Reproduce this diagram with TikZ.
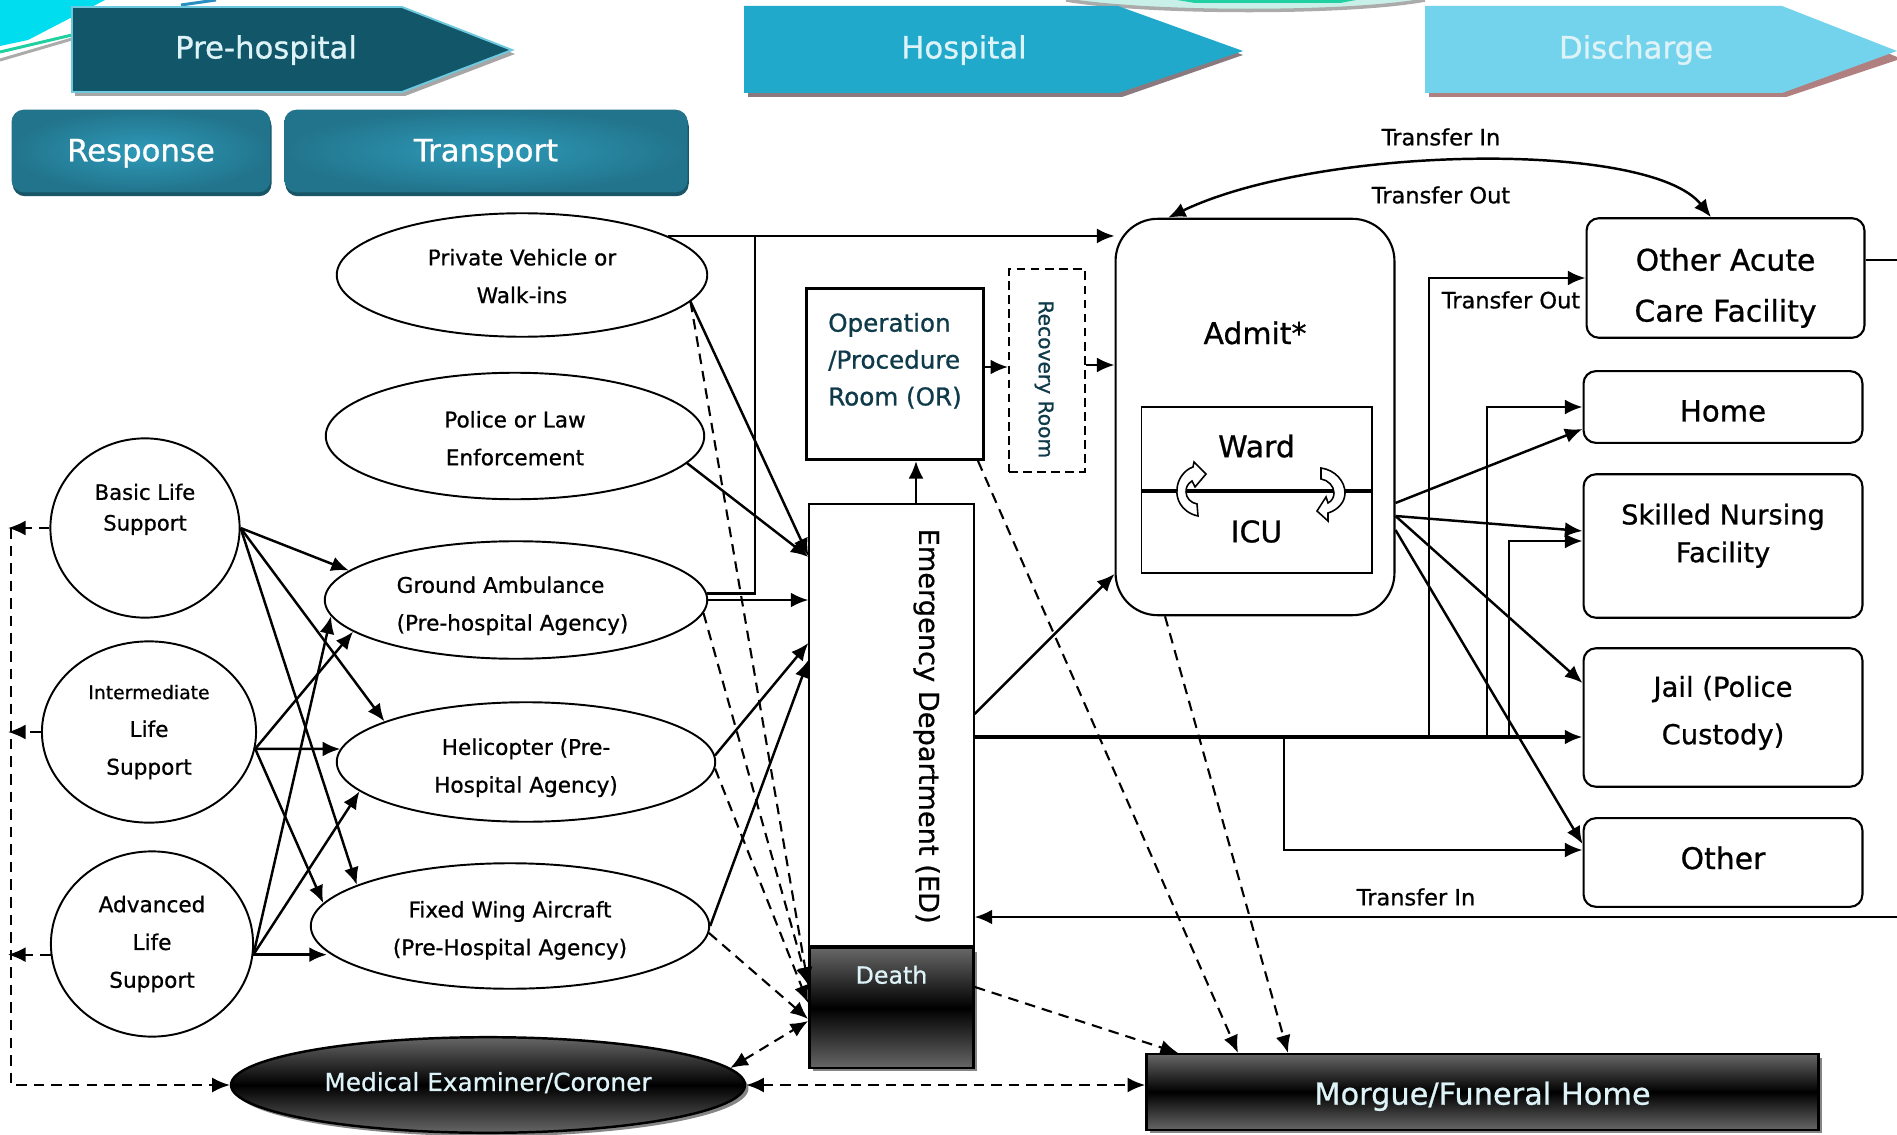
\documentclass[tikz,border=0pt]{standalone}
\usepackage{fontspec}
\setmainfont{DejaVu Sans}[FakeBold=0.8]
\usetikzlibrary{calc}
\usetikzlibrary{arrows.meta}
\usetikzlibrary{shadows}
\usetikzlibrary{shapes.geometric}
\definecolor{prehosp}{HTML}{12566A}
\definecolor{prehospedge}{HTML}{6FC9DE}
\definecolor{hosp}{HTML}{21A9CC}
\definecolor{disch}{HTML}{74D3EC}
\definecolor{paletext}{HTML}{DDF3F8}
\definecolor{phaseout}{HTML}{22748C}
\definecolor{phasein}{HTML}{2E9AB8}
\definecolor{phasedark}{HTML}{185566}
\definecolor{darkgrey}{HTML}{666666}
\definecolor{darkteal}{HTML}{0E3A4A}
\definecolor{streakcyan}{HTML}{00DDEE}
\definecolor{streakgreen}{HTML}{20D0A0}
\definecolor{streakmint}{HTML}{C8F0E8}
\definecolor{streakgrey}{HTML}{ABABAB}
\definecolor{streakblue}{HTML}{2A8FC0}
\definecolor{hospshade}{HTML}{8A7A80}
\definecolor{dischshade}{HTML}{B08080}
\def\px{0.5669pt}
\newcommand{\liftup}[3]{\raisebox{\dimexpr #1-0.25em\relax}[0pt][0pt]{\begin{tabular}{#2}#3\end{tabular}}}
\tikzset{
  oval/.style={ellipse,draw,fill=white,line width=1.1pt,inner sep=0pt,align=center,
    font=\fontsize{12.3}{21.5}\selectfont},
  roundbox/.style={rectangle,rounded corners=7pt,draw,fill=white,line width=1.2pt,inner sep=0pt,
    minimum width=280*\px,font=\fontsize{15.5}{24}\selectfont},
  plainbox/.style={rectangle,draw,fill=white,line width=1.1pt,inner sep=0pt},
  blackfade/.style={top color=darkgrey,bottom color=darkgrey,middle color=black,draw=black,
    line width=1.4pt,inner sep=0pt,text=paletext,
    drop shadow={shadow xshift=2pt,shadow yshift=-2pt,opacity=1,fill=darkgrey!80}},
  phase/.style={rectangle,rounded corners=7pt,inner sep=0pt,text=white,shading=radial,
    inner color=phasein,outer color=phaseout,font=\fontsize{17.5}{20}\selectfont,
    drop shadow={shadow xshift=0.6pt,shadow yshift=-2.2pt,opacity=1,fill=phasedark}},
  stage/.style={font=\fontsize{17.5}{20}\selectfont,inner sep=0pt},
  transfer/.style={font=\fontsize{12.8}{14}\selectfont,inner sep=0pt},
  bigtip/.style={-{Latex[length=10pt,width=8.5pt]}},
  conn/.style={line width=1.4pt,bigtip},
  dconn/.style={line width=1.2pt,dashed,dash pattern=on 6pt off 4pt,bigtip},
  twotip/.style={{Latex[length=10pt,width=8.5pt]}-{Latex[length=10pt,width=8.5pt]}},
}
\begin{document}
\begin{tikzpicture}[x=0.02cm,y=-0.02cm]
\useasboundingbox (0,0) rectangle (1897,1135);
\fill[white] (0,0) rectangle (1897,1135);

%%% TOP CORNER STREAKS %%%
\fill[streakcyan] (0,0) -- (105,0) -- (28,40) -- (0,46) -- cycle;
\draw[line width=1.7pt,streakgreen] (0,52) -- (72,35);
\draw[line width=1.7pt,streakgrey] (0,60) -- (72,39);
\draw[line width=1.7pt,streakblue] (181,5) -- (216,0);
\fill[streakmint] (1066,0) .. controls (1150,14) and (1350,14) .. (1425,0) -- cycle;
\fill[streakgreen] (1177,0) -- (1356,0) -- (1340,3) -- (1195,3) -- cycle;
\draw[line width=2pt,streakgrey] (1066,0) .. controls (1150,14) and (1350,14) .. (1425,0);

%%% STAGE ARROWS %%%
\fill[gray!70] (75,11) -- (405,11) -- (515,54) -- (405,96) -- (75,96) -- cycle;
\draw[fill=prehosp,draw=prehospedge,line width=1.1pt] (72,7) -- (402,7) -- (512,50) -- (402,92) -- (72,92) -- cycle;
\node[stage,text=paletext] (prehospital) at (266,50) {Pre-hospital};
\fill[hospshade] (748,10) -- (1122,10) -- (1243,55) -- (1122,97) -- (748,97) -- cycle;
\fill[hosp] (744,6) -- (1118,6) -- (1243,51) -- (1118,93) -- (744,93) -- cycle;
\node[stage,text=paletext] (hospital) at (964,50) {Hospital};
\fill[dischshade] (1429,10) -- (1786,10) -- (1897,57) -- (1897,60) -- (1786,97) -- (1429,97) -- cycle;
\fill[disch] (1425,6) -- (1782,6) -- (1897,51) -- (1782,93) -- (1425,93) -- cycle;
\node[stage,text=paletext] (discharge) at (1636,50) {Discharge};

\node[phase,minimum width=260*\px,minimum height=83*\px] (response) at (141,151) {\liftup{-1.8pt}{@{}c@{}}{Response}};
\node[phase,minimum width=405*\px,minimum height=83*\px] (transport) at (486,151) {\liftup{-1.8pt}{@{}c@{}}{Transport}};

%%% RESPONSE AND TRANSPORT %%%
\node[oval,minimum width=190*\px,minimum height=180*\px,font=\fontsize{12}{17.5}\selectfont] (basic) at (145,528) {\liftup{10.8pt}{@{}c@{}}{Basic Life\\Support}};
\node[oval,minimum width=215*\px,minimum height=182*\px] (interm) at (149,732) {{\fontsize{10.7}{21}\selectfont Intermediate}\\Life\\Support};
\node[oval,minimum width=203*\px,minimum height=186*\px] (advanced) at (152,944) {Advanced\\Life\\Support};

\node[oval,minimum width=372*\px,minimum height=124*\px] (private) at (522,275) {\liftup{-0.9pt}{@{}c@{}}{Private Vehicle or\\Walk-ins}};
\node[oval,minimum width=380*\px,minimum height=127*\px] (police) at (515,436) {\liftup{-1.5pt}{@{}c@{}}{Police or Law\\Enforcement}};
\node[oval,minimum width=384*\px,minimum height=118*\px] (ground) at (516,600) {\liftup{-2.3pt}{@{}l@{\hspace{4pt}}}{Ground Ambulance\\(Pre-hospital Agency)}};
\node[oval,minimum width=380*\px,minimum height=120*\px] (heli) at (526,762) {\liftup{-2.3pt}{@{}c@{}}{Helicopter (Pre-\\Hospital Agency)}};
\node[oval,minimum width=400*\px,minimum height=126*\px] (fixed) at (510,926) {\liftup{-1.5pt}{@{}c@{}}{Fixed Wing Aircraft\\(Pre-Hospital Agency)}};

%%% HOSPITAL %%%
\node[plainbox,line width=1.5pt,minimum width=178*\px,minimum height=172*\px,text=darkteal,font=\fontsize{14}{21}\selectfont] (opbox) at (895,374) {\makebox[0pt][l]{\hspace{-38pt}\liftup{7.2pt}{@{}l@{}}{Operation\\/Procedure\\Room (OR)}}};
\node[rectangle,draw,dash pattern=on 5pt off 3pt,fill=white,line width=1.2pt,minimum width=76*\px,minimum height=203*\px,inner sep=0pt] (recov) at (1047,370.5) {\hspace{-3.4pt}\raisebox{-10pt}{\rotatebox{-90}{\fontsize{11.5}{14}\selectfont\textcolor{darkteal}{Recovery Room}}}};
\node[plainbox,minimum width=165*\px,minimum height=444*\px] (ed) at (891.5,725) {\hspace{40pt}\raisebox{-1.3pt}{\rotatebox{-90}{\fontsize{15.5}{17}\selectfont Emergency Department (ED)}}};
\node[blackfade,rectangle,minimum width=165*\px,minimum height=120*\px,font=\fontsize{13.5}{17}\selectfont] (death) at (891.5,1008) {\raisebox{38pt}{Death}};

\node[roundbox,minimum height=398*\px,rounded corners=24pt,font=\fontsize{17}{20}\selectfont] (admit) at (1255,417) {\raisebox{96pt}{Admit*}};
\node[plainbox,minimum width=231*\px,minimum height=83*\px,font=\fontsize{17}{18}\selectfont] (ward) at (1256.5,448.5) {\raisebox{3pt}{Ward}};
\node[plainbox,minimum width=231*\px,minimum height=83*\px,font=\fontsize{17}{18}\selectfont] (icu) at (1256.5,531.5) {ICU};
\draw[line width=2.4pt] (ward.south west) -- (ward.south east);

%%% ROTATING ARROWS %%%
\draw[fill=white,line width=0.9pt] (1198,516) .. controls (1180,512) and (1176,497) .. (1177,490) .. controls (1177,480) and (1184,470) .. (1193,467) -- (1194,462) -- (1206,474) -- (1195,487) -- (1192,481) .. controls (1187,484) and (1186,488) .. (1186,492) .. controls (1186,498) and (1191,503) .. (1197,504) -- cycle;
\draw[fill=white,line width=0.9pt] (1321,468) .. controls (1335,470) and (1345,481) .. (1345,493) .. controls (1345,502) and (1338,510) .. (1328,513) -- (1328,521) -- (1317,511) -- (1326,497) -- (1328,503) .. controls (1332,501) and (1334,497) .. (1334,493) .. controls (1334,486) and (1328,480) .. (1321,479) -- cycle;

%%% DISCHARGE %%%
\node[roundbox,minimum width=279*\px,minimum height=120*\px,font=\fontsize{17}{29}\selectfont] (acute) at (1725.5,278) {\liftup{-4.6pt}{@{}c@{}}{Other Acute\\Care Facility}};
\node[roundbox,minimum height=72*\px,font=\fontsize{16.6}{20}\selectfont] (home) at (1723,407) {\liftup{-4.4pt}{@{}c@{}}{Home}};
\node[roundbox,minimum height=144*\px,font=\fontsize{15.5}{21.5}\selectfont] (skilled) at (1723,546) {\liftup{6.1pt}{@{}c@{}}{Skilled Nursing\\Facility}};
\node[roundbox,minimum height=139*\px,font=\fontsize{15.6}{27}\selectfont] (jail) at (1723,717.5) {\liftup{4pt}{@{}c@{}}{Jail (Police\\Custody)}};
\node[roundbox,minimum height=89*\px,font=\fontsize{17}{20}\selectfont] (other) at (1723,862.5) {\liftup{0.2pt}{@{}c@{}}{Other}};

\node[blackfade,ellipse,minimum width=516*\px,minimum height=96*\px,font=\fontsize{14.1}{16}\selectfont] (medical) at (488,1085) {\raisebox{4pt}{Medical Examiner/Coroner}};
\node[blackfade,rectangle,minimum width=675*\px,minimum height=76*\px,font=\fontsize{17.3}{20}\selectfont] (morgue) at (1482.5,1092) {\liftup{-3.2pt}{@{}c@{}}{Morgue/Funeral Home}};

%%% COORDINATES %%%
\coordinate (BL) at (8,528); % left bus
\coordinate (GU) at (755,236); % ground ambulance riser
\coordinate (T1) at (1429,737); % trunk to other acute
\coordinate (T2) at (1487,737); % trunk to home
\coordinate (T3) at (1509,737); % trunk to skilled nursing
\coordinate (T4) at (1284,737); % trunk to other
\coordinate (RT) at (1897,260); % off to the right, top
\coordinate (RB) at (1897,917); % back in from the right

%%% RESPONSE TO TRANSPORT %%%
\draw[conn] (basic.east) -- (ground.170.5);
\draw[conn] (basic.east) -- (heli.164);
\draw[conn] (basic.east) -- (fixed.165.6);
\draw[conn] (interm.-9) -- (ground.191.7);
\draw[conn] (interm.-9) -- (heli.176);
\draw[conn] (interm.-9) -- (fixed.173);
\draw[conn] (advanced.-6) -- (ground.185.4);
\draw[conn] (advanced.-6) -- (heli.190);
\draw[conn] (advanced.-6) -- (advanced.-6 -| fixed.188.6);

%%% TRANSPORT TO HOSPITAL %%%
\draw[conn] (private.15) -- (admit.west |- private.15);
\draw[conn] (private.-9) -- (ed.west |- 0,556);
\draw[conn] (police.-9) -- (ed.west |- 0,557);
\draw[line width=1.4pt] (ground.2.5) -| (GU);
\draw[conn] (ground.east) -- (ed.west |- ground.east);
\draw[conn] (heli.2) -- (ed.west |- 0,643);
\draw[conn] (fixed.east) -- (ed.west |- 0,660);

%%% INSIDE THE HOSPITAL %%%
\draw[conn] (ed.north -| 916,0) -- (opbox.south -| 916,0);
\draw[conn] (opbox.east |- 0,367) -- (recov.west |- 0,367);
\draw[conn] (recov.east |- 0,365) -- (admit.west |- 0,365);
\draw[conn] (ed.east |- 0,714) -- (admit.west |- 0,574);

%%% TO DISCHARGE %%%
\draw[conn,line width=2pt] (ed.east |- T1) -- (jail.west |- T1);
\draw[conn,line width=1.6pt] (T1) |- (acute.west);
\draw[conn] (T2) |- (home.west);
\draw[conn] (T3) |- (skilled.west |- 0,541);
\draw[conn] (T4) |- (other.west |- 0,850);
\draw[conn] (admit.east |- 0,503) -- (home.west |- 0,429);
\draw[conn] (admit.east |- 0,516) -- (skilled.west |- 0,531);
\draw[conn] (admit.east |- 0,516) -- (jail.west |- 0,683);
\draw[conn] (admit.east |- 0,530) -- (other.west |- 0,844);

%%% TRANSFERS %%%
\draw[line width=1.4pt,twotip]
  (admit.north -| 1168,0) .. controls (1320,145) and (1650,140) .. (acute.north -| 1711,0);
\draw[line width=1.4pt] (acute.east |- RT) -- (RT);
\draw[conn] (RB) -- (ed.east |- RB);
\node[transfer] (tinone) at (1441,137) {Transfer In};
\node[transfer] (toutone) at (1441,195) {Transfer Out};
\node[transfer] (touttwo) at (1511,300) {Transfer Out};
\node[transfer] (tintwo) at (1416,897) {Transfer In};

%%% DASHED LINES %%%
% to the left bus
\draw[dconn] (basic.west) -- (BL);
\draw[dconn] (interm.west) -- (interm.west -| BL);
\draw[dconn] (advanced.186) -- (advanced.186 -| BL);
\draw[dconn] (BL) ++(3,0) |- (medical.west);
% to death
\draw[dconn] (private.-9) -- (death.west |- 0,985);
\draw[dconn] (ground.-4) -- (death.west |- 0,985);
\draw[dconn] (heli.-2.4) -- (death.west |- 0,1003);
\draw[dconn] (fixed.-2) -- (death.west |- 0,1019);
\draw[dconn,twotip] (medical.4.1) -- (death.west |- 0,1021);
% to morgue
\draw[dconn,twotip] (medical.east) -- (morgue.west |- medical.east);
\draw[dconn] (death.east |- 0,987) -- (morgue.north -| 1178,0);
\draw[dconn] (opbox.south -| 978,0) -- (morgue.north -| 1238,0);
\draw[dconn] (admit.south -| 1165,0) -- (morgue.north -| 1288,0);
\end{tikzpicture}
\end{document}
